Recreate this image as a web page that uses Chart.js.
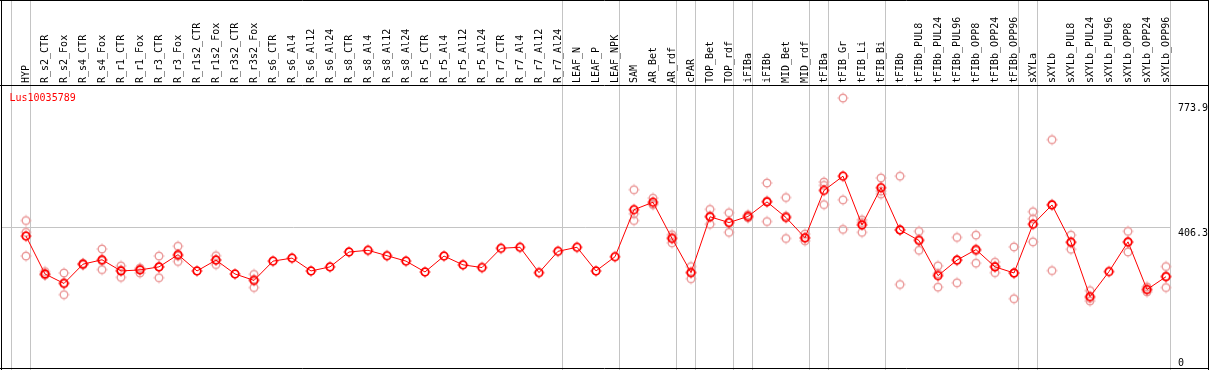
<!DOCTYPE html>
<html>
<head>
<meta charset="utf-8">
<script src="https://cdn.jsdelivr.net/npm/chart.js@4.4.0/dist/chart.umd.min.js"></script>
<style>
html,body{margin:0;padding:0;background:#fff;}
#wrap{width:1209px;height:370px;position:relative;}
</style>
</head>
<body>
<div id="wrap"><canvas id="c" width="1209" height="370"></canvas></div>
<script>
const title = 'Lus10035789';
const categories = ['HYP','R_s2_CTR','R_s2_Fox','R_s4_CTR','R_s4_Fox','R_r1_CTR','R_r1_Fox','R_r3_CTR','R_r3_Fox','R_r1s2_CTR','R_r1s2_Fox','R_r3s2_CTR','R_r3s2_Fox','R_s6_CTR','R_s6_Al4','R_s6_Al12','R_s6_Al24','R_s8_CTR','R_s8_Al4','R_s8_Al12','R_s8_Al24','R_r5_CTR','R_r5_Al4','R_r5_Al12','R_r5_Al24','R_r7_CTR','R_r7_Al4','R_r7_Al12','R_r7_Al24','LEAF_N','LEAF_P','LEAF_NPK','SAM','AR_Bet','AR_rdf','cPAR','TOP_Bet','TOP_rdf','iFIBa','iFIBb','MID_Bet','MID_rdf','tFIBa','tFIB_Gr','tFIB_Li','tFIB_Bi','tFIBb','tFIBb_PUL8','tFIBb_PUL24','tFIBb_PUL96','tFIBb_OPP8','tFIBb_OPP24','tFIBb_OPP96','sXYLa','sXYLb','sXYLb_PUL8','sXYLb_PUL24','sXYLb_PUL96','sXYLb_OPP8','sXYLb_OPP24','sXYLb_OPP96'];
const meanValues = [378,266,238,295,308,275,278,287,323,275,307,266,247,304,313,275,287,331,336,320,304,272,319,293,285,342,345,270,333,345,275,317,456,478,371,270,435,418,436,479,433,373,513,555,411,521,396,365,261,307,338,287,269,413,470,360,199,273,361,220,258];
const rep1 = [424,273,269,297,340,290,282,319,348,null,320,null,265,null,null,null,null,null,null,null,null,null,null,null,null,null,null,null,null,null,null,null,515,490,382,288,457,447,441,535,492,384,538,786,426,550,555,392,290,374,381,301,346,450,663,381,217,null,392,228,288];
const rep2 = [389,263,205,294,279,256,269,255,303,null,294,null,226,null,null,null,null,null,null,null,null,null,null,null,null,null,null,null,null,null,null,null,444,471,358,252,413,389,432,421,371,364,528,485,389,502,235,336,227,240,298,270,193,361,276,339,186,null,331,213,226];
const rep3 = [319,263,240,295,305,278,283,287,319,null,308,null,250,null,null,null,null,null,null,null,null,null,null,null,null,null,null,null,null,null,null,null,424,473,374,271,437,418,436,482,437,372,471,398,418,511,397,368,267,307,335,289,268,429,472,359,194,null,359,220,260];
const separatorsAfter = [-1,0,28,31,34,35,37,38,41,42,45,52,53,60];
const yTicks = [0,406.3,773.9];
const gridValues = [406.3];

function makeMarker(color, lw){
  const s = 14, c = document.createElement('canvas');
  c.width = s; c.height = s;
  const g = c.getContext('2d');
  g.strokeStyle = color; g.lineWidth = lw;
  g.beginPath(); g.arc(7,7,3.8,0,Math.PI*2); g.stroke();
  g.fillStyle = color;
  g.fillRect(6.5,1.5,1,1);
  g.fillRect(6.5,11.5,1,1);
  g.fillRect(1.5,6.5,1,1);
  g.fillRect(11.5,6.5,1,1);
  return c;
}
const meanMarker = makeMarker('#ff0000', 1.8);
const repMarker = makeMarker('#eb9a9a', 1.4);

const MONO = '10px "DejaVu Sans Mono", monospace';

const framePlugin = {
  id: 'frame',
  beforeDraw(chart){
    const ctx = chart.ctx, W = chart.width, H = chart.height;
    const xs = chart.scales.x, ys = chart.scales.y;
    ctx.save();
    ctx.fillStyle = '#fff'; ctx.fillRect(0,0,W,H);
    ctx.strokeStyle = '#c4c4c4'; ctx.lineWidth = 1;
    const lastSep = Math.floor(xs.getPixelForValue(categories.length-1) + 4) + 0.5;
    separatorsAfter.forEach(i => {
      const x = Math.floor(xs.getPixelForValue(i) + 4) + 0.5;
      ctx.beginPath(); ctx.moveTo(x,0); ctx.lineTo(x,H); ctx.stroke();
    });
    gridValues.forEach(v => {
      const y = Math.round(ys.getPixelForValue(v)) + 0.5;
      ctx.beginPath(); ctx.moveTo(1,y); ctx.lineTo(lastSep,y); ctx.stroke();
    });
    ctx.restore();
  },
  afterDraw(chart){
    const ctx = chart.ctx, W = chart.width, H = chart.height;
    const xs = chart.scales.x, ys = chart.scales.y;
    ctx.save();
    ctx.strokeStyle = '#000'; ctx.lineWidth = 1;
    ctx.beginPath();
    ctx.moveTo(0,0.5); ctx.lineTo(W,0.5);
    ctx.moveTo(0,85.5); ctx.lineTo(W,85.5);
    ctx.moveTo(1.5,0); ctx.lineTo(1.5,H);
    ctx.moveTo(0,368.5); ctx.lineTo(W,368.5);
    ctx.moveTo(W-0.5,0); ctx.lineTo(W-0.5,H);
    ctx.stroke();
    ctx.fillStyle = '#000'; ctx.font = MONO;
    ctx.textAlign = 'left'; ctx.textBaseline = 'middle';
    categories.forEach((lab,i) => {
      const x = xs.getPixelForValue(i);
      ctx.save();
      ctx.translate(x, 83);
      ctx.rotate(-Math.PI/2);
      ctx.fillText(lab, 0, 0.5);
      ctx.restore();
    });
    ctx.fillStyle = '#ff0000';
    ctx.textBaseline = 'alphabetic';
    ctx.fillText(title, 9.5, 101);
    ctx.fillStyle = '#000';
    yTicks.forEach(v => {
      const y = ys.getPixelForValue(v);
      ctx.fillText(String(v), 1178, Math.min(y + 9, 366));
    });
    ctx.restore();
  }
};

new Chart(document.getElementById('c'), {
  type: 'line',
  data: {
    labels: categories,
    datasets: [
      {label:'mean', data: meanValues, borderColor:'#ff0000', borderWidth:1, backgroundColor:'transparent',
       pointStyle: meanMarker, pointRadius:5, tension:0, order:1, spanGaps:true},
      {label:'rep1', data: rep1, showLine:false, pointStyle: repMarker, pointRadius:5, borderColor:'#eb9a9a', backgroundColor:'transparent', order:2},
      {label:'rep2', data: rep2, showLine:false, pointStyle: repMarker, pointRadius:5, borderColor:'#eb9a9a', backgroundColor:'transparent', order:2},
      {label:'rep3', data: rep3, showLine:false, pointStyle: repMarker, pointRadius:5, borderColor:'#eb9a9a', backgroundColor:'transparent', order:2}
    ]
  },
  options: {
    responsive: false,
    devicePixelRatio: 1,
    animation: false,
    events: [],
    layout: { padding: { left: 26, right: 43, top: 86, bottom: 2.4 } },
    plugins: { legend: {display:false}, tooltip: {enabled:false}, title:{display:false} },
    scales: {
      x: { type:'category', offset:false, display:false },
      y: { type:'linear', min:0, max:821.5, display:false }
    },
    clip: false
  },
  plugins: [framePlugin]
});
</script>
</body>
</html>
